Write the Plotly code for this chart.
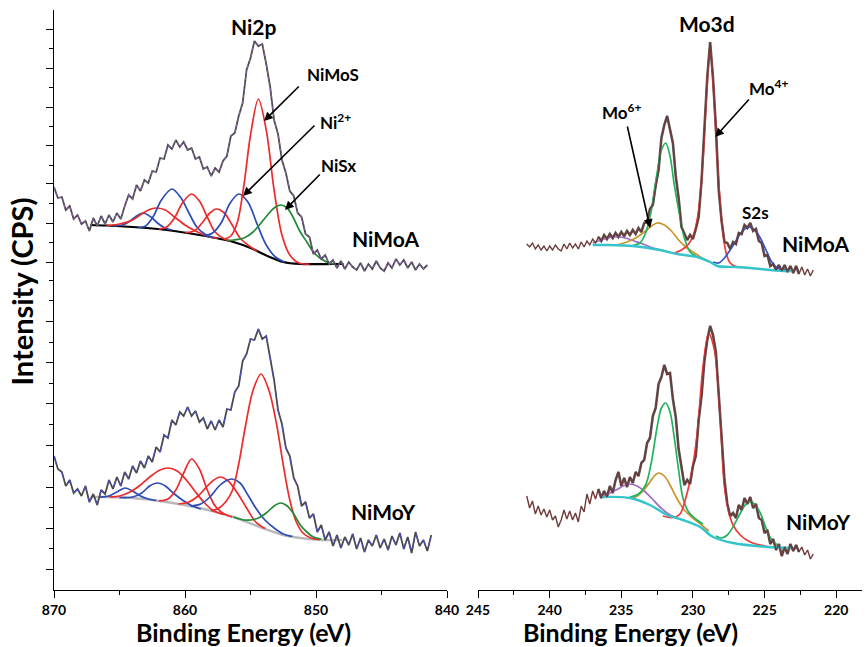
import numpy as np
import plotly.graph_objects as go

# ---------------- raw spectra (regular energy step) ----------------
NI_E_START, NI_E_STEP = 870.0, 0.3
MO_E_START, MO_E_STEP = 241.6, 0.2

NIMOA_NI2P_RAW = [
    403, 392, 393, 380, 384, 371, 375, 366, 369, 359,
    372, 364, 374, 366, 375, 368, 377, 371, 384, 395,
    391, 405, 399, 410, 407, 419, 418, 432, 431, 445,
    441, 450, 443, 448, 440, 442, 431, 433, 421, 423,
    414, 422, 418, 429, 434, 454, 457, 474, 487, 520,
    532, 549, 544, 546, 526, 503, 470, 456, 430, 417,
    399, 394, 377, 373, 356, 353, 336, 340, 331, 335,
    326, 330, 322, 329, 321, 328, 323, 320, 327, 319,
    326, 321, 329, 322, 319, 327, 322, 331, 325, 330,
    322, 328, 320, 326, 321, 325]

NIMOY_NI2P_RAW = [
    134, 121, 118, 104, 110, 97, 101, 94, 104, 88,
    96, 85, 100, 96, 110, 101, 113, 104, 118, 111,
    124, 117, 129, 122, 134, 128, 143, 138, 155, 152,
    170, 165, 178, 174, 183, 174, 179, 168, 172, 161,
    169, 160, 170, 163, 181, 180, 198, 204, 229, 236,
    251, 250, 261, 251, 254, 233, 210, 180, 166, 142,
    134, 112, 104, 84, 88, 72, 76, 58, 65, 50,
    58, 44, 55, 42, 53, 45, 56, 41, 52, 38,
    50, 44, 55, 42, 51, 40, 54, 45, 57, 41,
    53, 37, 58, 44, 50, 39, 55]

NIMOA_MO3D_RAW = [
    346, 343, 347, 341, 345, 340, 344, 339, 344, 340,
    345, 341, 339, 346, 341, 347, 342, 346, 341, 348,
    343, 349, 345, 351, 347, 353, 349, 355, 351, 356,
    352, 357, 353, 358, 354, 359, 355, 360, 356, 362,
    358, 367, 368, 381, 385, 405, 420, 452, 465, 474,
    462, 447, 414, 392, 363, 357, 350, 355, 351, 361,
    373, 409, 460, 513, 548, 512, 463, 400, 369, 348,
    347, 341, 348, 346, 357, 356, 365, 362, 367, 359,
    361, 349, 347, 334, 335, 324, 326, 320, 325, 319,
    325, 318, 324, 317, 324, 316, 323, 315, 321, 314,
    320]

NIMOY_MO3D_RAW = [
    94, 82, 89, 76, 84, 75, 81, 73, 80, 70,
    74, 63, 70, 80, 71, 79, 70, 77, 68, 84,
    78, 96, 86, 99, 91, 101, 92, 99, 93, 104,
    97, 110, 118, 104, 112, 103, 113, 107, 118, 114,
    127, 130, 147, 152, 174, 182, 206, 213, 225, 216,
    217, 191, 173, 141, 124, 105, 110, 106, 124, 134,
    170, 194, 229, 250, 264, 255, 238, 197, 150, 110,
    86, 74, 77, 72, 85, 80, 92, 86, 93, 82,
    86, 72, 70, 57, 60, 46, 51, 40, 46, 34,
    43, 36, 46, 39, 45, 38, 43, 35, 40, 31,
    36]

# ---------------- fitted components: (binding energy, intensity) ----------------
A_NI_BG = [(867.25, 365), (866.0, 364.5), (864.0, 363), (861.4, 360), (858.9, 355), (856.3, 348),
           (855.0, 342), (853.7, 334), (852.5, 328), (851.2, 326), (848.7, 326), (847.9, 326)]
A_NI_B1 = [(865.5, 364), (864.8, 365), (864.3, 368), (863.8, 373), (863.2, 377), (862.6, 373),
           (862.1, 367), (861.6, 362.5), (861.0, 360)]
A_NI_R1 = [(866.0, 364.5), (865.0, 366), (864.0, 370), (863.2, 377), (862.6, 381), (862.1, 382),
           (861.5, 380), (860.8, 373), (860.0, 365), (859.2, 359), (858.3, 354), (857.5, 351.5)]
A_NI_B2 = [(863.6, 362.5), (863.0, 364), (862.4, 374), (861.8, 390), (861.0, 401), (860.3, 392),
           (859.7, 377), (859.1, 363), (858.5, 356), (857.8, 352)]
A_NI_R2 = [(862.0, 361), (861.4, 363), (860.8, 372), (860.2, 387), (859.5, 396), (858.9, 389),
           (858.3, 373), (857.7, 358), (857.0, 351), (856.5, 349)]
A_NI_R3 = [(860.0, 357.5), (859.3, 359), (858.7, 367), (858.1, 377), (857.6, 381), (857.0, 377),
           (856.4, 365), (855.8, 352), (855.1, 344), (854.5, 339)]
A_NI_B3 = [(858.6, 354), (857.9, 357), (857.2, 368), (856.6, 386), (855.9, 396), (855.2, 388),
           (854.5, 366), (853.8, 345), (853.1, 333), (852.4, 328)]
A_NI_R4 = [(857.0, 351), (856.5, 354), (856.0, 368), (855.5, 405), (855.0, 455), (854.4, 491),
           (853.8, 460), (853.2, 400), (852.6, 355), (852.0, 335), (851.3, 327), (850.5, 326)]
A_NI_G = [(856.8, 349.5), (856.3, 350), (855.5, 352), (854.8, 358), (854.2, 367), (853.7, 375),
          (853.2, 382), (852.7, 385), (852.2, 382), (851.8, 374), (851.2, 358), (850.7, 348),
          (850.2, 338), (849.7, 332), (849.0, 327), (848.5, 326)]

Y_NI_BG = [(867.2, 93), (866.0, 93), (864.0, 92), (861.4, 88), (858.9, 82), (856.3, 73),
           (854.3, 63), (852.5, 55), (851.2, 52), (849.5, 50), (848.0, 50)]
Y_NI_B1 = [(866.5, 93), (865.8, 94), (865.2, 98), (864.6, 102), (864.0, 99), (863.4, 94),
           (862.8, 91), (862.2, 89.5)]
Y_NI_B2 = [(865.0, 92.5), (864.0, 93), (863.3, 97), (862.7, 104), (862.1, 107), (861.5, 104),
           (860.9, 97), (860.2, 90), (859.5, 84.5), (858.8, 81)]
Y_NI_R1 = [(865.8, 93), (865.0, 94), (864.2, 98), (863.4, 105), (862.6, 114), (861.9, 120),
           (861.3, 122), (860.6, 119), (859.9, 110), (859.2, 98), (858.5, 87), (857.8, 79), (857.0, 75.5)]
Y_NI_R2 = [(862.0, 89), (861.3, 91), (860.7, 100), (860.1, 117), (859.5, 131), (858.9, 121),
           (858.3, 100), (857.7, 84), (857.0, 76), (856.4, 73)]
Y_NI_R3 = [(860.5, 86), (859.7, 88), (859.0, 94), (858.3, 104), (857.8, 110), (857.3, 113),
           (856.7, 109), (856.0, 97), (855.3, 82), (854.6, 68), (853.9, 61.5)]
Y_NI_B3 = [(859.6, 84), (858.8, 86), (858.1, 93), (857.4, 104), (856.9, 109), (856.4, 111),
           (855.8, 107), (855.2, 95), (854.6, 82), (853.9, 70), (853.2, 62), (852.5, 56), (851.8, 53.5)]
Y_NI_R4 = [(858.0, 79), (857.4, 82), (856.9, 88), (856.4, 99), (855.9, 126), (855.4, 163),
           (854.8, 200), (854.2, 216), (853.6, 200), (853.0, 165), (852.5, 125), (852.0, 90),
           (851.5, 68), (851.0, 57), (850.4, 52), (849.7, 50.5)]
Y_NI_G = [(856.3, 73), (855.5, 70), (855.0, 70), (854.4, 72), (853.8, 77), (853.2, 84), (852.7, 87),
          (852.2, 84), (851.7, 76), (851.2, 65), (850.7, 58), (850.2, 53), (849.6, 51)]

A_MO_BG = [(237.0, 345), (236.0, 345), (234.2, 344), (232.3, 340), (231.1, 336), (229.7, 333),
           (228.8, 328), (228.3, 324), (227.0, 323), (226.0, 322), (223.7, 319), (223.0, 319)]
A_MO_PU = [(237.0, 347), (236.4, 350), (235.8, 352.5), (235.3, 353), (234.7, 352), (234.1, 349),
           (233.5, 346), (232.9, 342.5), (232.3, 340), (231.6, 337.5)]
A_MO_OR = [(235.3, 345), (234.7, 347.5), (234.0, 352), (233.4, 358), (232.9, 364), (232.5, 367),
           (232.0, 365), (231.5, 359), (231.0, 350), (230.5, 343), (229.9, 337), (229.3, 331.5), (228.8, 328)]
A_MO_GR = [(234.2, 344.5), (233.7, 347), (233.3, 357), (232.9, 380), (232.5, 417), (232.2, 440),
           (231.9, 447), (231.6, 434), (231.3, 405), (230.9, 373), (230.6, 352), (230.2, 338), (229.8, 334)]
A_MO_RD = [(231.3, 337), (230.8, 340), (230.3, 346), (229.9, 358), (229.6, 380), (229.3, 430),
           (229.05, 495), (228.8, 542), (228.55, 497), (228.3, 430), (228.0, 370), (227.7, 338),
           (227.4, 327), (227.0, 323.5), (226.5, 322.5)]
A_MO_S2S = [(228.6, 328), (228.2, 327), (227.8, 332), (227.4, 340), (227.0, 349), (226.6, 358),
            (226.1, 363), (225.7, 360), (225.3, 352), (224.9, 340), (224.5, 328), (224.1, 322), (223.5, 320)]

Y_MO_BG = [(236.4, 93), (234.4, 92), (233.0, 85), (231.8, 75), (230.7, 70), (229.5, 63),
           (228.6, 53), (227.2, 47), (224.8, 43), (223.2, 42)]
Y_MO_PU = [(236.4, 93), (235.9, 96), (235.3, 100.5), (234.8, 104.5), (234.4, 106), (233.9, 104),
           (233.4, 99), (232.9, 92), (232.3, 83), (231.6, 75), (231.1, 72)]
Y_MO_OR = [(234.7, 92), (234.0, 93), (233.5, 99), (233.0, 108), (232.7, 114), (232.4, 117),
           (232.0, 114), (231.6, 105), (231.1, 91), (230.6, 80), (230.0, 72), (229.4, 65), (228.9, 59)]
Y_MO_GR = [(234.4, 93), (233.8, 96), (233.3, 105), (232.9, 128), (232.5, 163), (232.2, 182),
           (231.9, 187), (231.6, 178), (231.3, 152), (231.0, 120), (230.7, 92), (230.3, 78),
           (229.8, 71), (229.3, 66)]
Y_MO_RD = [(232.1, 74), (231.4, 72.5), (230.9, 76), (230.5, 92), (230.1, 117), (229.7, 157),
           (229.3, 223), (228.9, 257), (228.5, 240), (228.1, 173), (227.8, 103), (227.5, 78),
           (227.2, 65), (226.7, 55), (226.0, 48), (225.0, 44), (224.0, 42.5)]
Y_MO_S2S = [(228.4, 54), (228.0, 52), (227.6, 55), (227.2, 63), (226.8, 74), (226.4, 84), (226.1, 88),
            (225.7, 86), (225.3, 77), (224.9, 62), (224.5, 50), (224.1, 45)]

# ---------------- axis ticks ----------------
X_TICKS_NI = [870, 860, 850, 840]
X_MINOR_NI = [865, 855, 845]
X_TICKS_MO = [245, 240, 235, 230, 225, 220]
X_MINOR_MO = [242.5, 237.5, 232.5, 227.5, 222.5]
Y_MAJOR = [21, 62, 103, 145, 187, 228, 269, 328, 367, 407, 445, 483, 522, 561]
Y_MINOR = [42, 83, 124, 166, 207, 248, 290, 310, 348, 387, 425, 464, 503, 542]

# ---------------- colours ----------------
RAW_GRAY = "#4a4a4a"
RED, BLUE, DGREEN = "#ee2a2a", "#2f4cb5", "#1f8b34"
BROWN, MGREEN, ORANGE, PURPLE, CYAN, MRED, MBLUE = (
    "#6e3b3b", "#22b35e", "#c9952b", "#9d6cc2", "#35c3cc", "#f03a3a", "#3455c2")

fig = go.Figure()


def energies(start, step, n):
    return start - step * np.arange(n)


def add_line(x, y, xa, color, width=1.7, shape="linear", dash="solid"):
    fig.add_trace(go.Scatter(
        x=list(x), y=list(y), xaxis=xa, yaxis="y", mode="lines",
        line=dict(color=color, width=width, shape=shape, dash=dash,
                  smoothing=0.9 if shape == "spline" else None),
        hoverinfo="skip", showlegend=False))


def add_comp(points, xa, color, width=1.7):
    e, i = zip(*points)
    add_line(e, i, xa, color, width=width, shape="spline")


# ---- Ni2p NiMoA ----
eA = energies(NI_E_START, NI_E_STEP, len(NIMOA_NI2P_RAW))
add_comp(A_NI_BG, "x", "#000000", 2.2)
for pts, col in [(A_NI_B1, BLUE), (A_NI_R1, RED), (A_NI_B2, BLUE), (A_NI_R2, RED),
                 (A_NI_R3, RED), (A_NI_B3, BLUE), (A_NI_R4, RED), (A_NI_G, DGREEN)]:
    add_comp(pts, "x", col)
add_line(eA, NIMOA_NI2P_RAW, "x", RAW_GRAY, 1.8)
add_line(eA, NIMOA_NI2P_RAW, "x", "#8a5fb0", 1.1, dash="dot")

# ---- Ni2p NiMoY ----
eY = energies(NI_E_START, NI_E_STEP, len(NIMOY_NI2P_RAW))
add_comp(Y_NI_BG, "x", "#b8b8b8", 2.4)
for pts, col in [(Y_NI_B1, BLUE), (Y_NI_B2, BLUE), (Y_NI_R1, RED), (Y_NI_R2, RED),
                 (Y_NI_R3, RED), (Y_NI_B3, BLUE), (Y_NI_R4, RED), (Y_NI_G, DGREEN)]:
    add_comp(pts, "x", col)
add_line(eY, NIMOY_NI2P_RAW, "x", RAW_GRAY, 1.8)
add_line(eY, NIMOY_NI2P_RAW, "x", "#4b4fb8", 1.1, dash="dash")

# ---- Mo3d NiMoA ----
mA = energies(MO_E_START, MO_E_STEP, len(NIMOA_MO3D_RAW))
fitA = [(e, v) for e, v in zip(mA, NIMOA_MO3D_RAW) if 222.6 <= e <= 236.6]
add_line([p[0] for p in fitA], [p[1] for p in fitA], "x2", "#5a5a5a", 2.6)
for pts, col in [(A_MO_PU, PURPLE), (A_MO_OR, ORANGE), (A_MO_GR, MGREEN),
                 (A_MO_RD, MRED), (A_MO_S2S, MBLUE)]:
    add_comp(pts, "x2", col)
add_comp(A_MO_BG, "x2", CYAN, 2.4)
add_line(mA, NIMOA_MO3D_RAW, "x2", BROWN, 1.4)

# ---- Mo3d NiMoY ----
mY = energies(MO_E_START, MO_E_STEP, len(NIMOY_MO3D_RAW))
fitY = [(e, v) for e, v in zip(mY, NIMOY_MO3D_RAW) if 222.6 <= e <= 236.6]
add_line([p[0] for p in fitY], [p[1] for p in fitY], "x2", "#5a5a5a", 2.6)
for pts, col in [(Y_MO_PU, PURPLE), (Y_MO_OR, ORANGE), (Y_MO_GR, MGREEN),
                 (Y_MO_RD, MRED), (Y_MO_S2S, MGREEN)]:
    add_comp(pts, "x2", col)
add_comp(Y_MO_BG, "x2", CYAN, 2.4)
add_line(mY, NIMOY_MO3D_RAW, "x2", BROWN, 1.4)

# ---------------- layout ----------------
FONT = "Lato, 'Open Sans', Arial, sans-serif"
axis_common = dict(showline=True, linecolor="black", linewidth=1.4, ticks="outside",
                   ticklen=7, tickwidth=1.4, tickcolor="black", showgrid=False,
                   zeroline=False, automargin=False,
                   tickfont=dict(size=14, weight="bold", color="black", family=FONT))
fig.update_layout(
    width=866, height=647, autosize=False,
    margin=dict(l=54, r=4, t=10, b=57, autoexpand=False),
    plot_bgcolor="white", paper_bgcolor="white", showlegend=False,
    font=dict(family=FONT, color="black"),
    xaxis=dict(domain=[0, 0.4864], range=[870, 840], tickvals=X_TICKS_NI, anchor="y",
               minor=dict(tickvals=X_MINOR_NI, ticks="outside", ticklen=4, tickwidth=1.4,
                          tickcolor="black"), **axis_common),
    xaxis2=dict(domain=[0.5248, 1], range=[245, 218.2], tickvals=X_TICKS_MO, anchor="y",
                minor=dict(tickvals=X_MINOR_MO, ticks="outside", ticklen=4, tickwidth=1.4,
                           tickcolor="black"), **axis_common),
    yaxis=dict(domain=[0, 1], range=[0, 580], anchor="x", showline=True, linecolor="black",
               linewidth=1.4, ticks="outside", ticklen=7, tickwidth=1.4, tickcolor="black",
               tickvals=Y_MAJOR, showticklabels=False, showgrid=False, zeroline=False,
               automargin=False,
               minor=dict(tickvals=Y_MINOR, ticks="outside", ticklen=4, tickwidth=1.4,
                          tickcolor="black")),
)

ann = []


def label(text, x, y, xref, size=14):
    ann.append(dict(text=text, x=x, y=y, xref=xref, yref="y", showarrow=False,
                    font=dict(size=size, weight="bold", family=FONT, color="black"),
                    xanchor="center", yanchor="middle"))


def arrow(x0, y0, x1, y1, xref):
    ann.append(dict(text="", x=x1, y=y1, ax=x0, ay=y0, xref=xref, yref="y",
                    axref=xref, ayref="y", showarrow=True, arrowhead=2, arrowsize=1.1,
                    arrowwidth=1.6, arrowcolor="black"))


label("Ni2p", 854.7, 564, "x", 21)
label("NiMoS", 848.7, 516, "x", 17)
label("Ni<sup>2+</sup>", 848.5, 469, "x", 17)
label("NiSx", 848.3, 425, "x", 17)
label("NiMoA", 844.65, 352, "x", 21)
label("NiMoY", 844.9, 79, "x", 21)
arrow(851.2, 505, 853.97, 469, "x")
arrow(850.0, 466, 855.57, 394, "x")
arrow(849.6, 417, 852.37, 380, "x")

label("Mo3d", 229.04, 567, "x2", 21)
label("Mo<sup>6+</sup>", 235.0, 479, "x2", 17)
label("Mo<sup>4+</sup>", 224.75, 503, "x2", 17)
label("S2s", 225.6, 378, "x2", 17)
label("NiMoA", 221.4, 347, "x2", 21)
label("NiMoY", 221.3, 69, "x2", 21)
arrow(234.6, 465, 232.99, 362, "x2")
arrow(226.0, 492, 228.45, 453, "x2")

ann.append(dict(text="Intensity (CPS)", x=-0.040, y=0.514, xref="paper", yref="paper",
                textangle=-90, showarrow=False, xanchor="center", yanchor="middle",
                font=dict(size=29, weight="bold", family=FONT, color="black")))
for xc in (0.235, 0.713):
    ann.append(dict(text="Binding Energy (eV)", x=xc, y=-0.0724, xref="paper", yref="paper",
                    showarrow=False, xanchor="center", yanchor="middle",
                    font=dict(size=25, weight="bold", family=FONT, color="black")))
fig.update_layout(annotations=ann)

fig.write_html("out.html",
               config={"displayModeBar": False, "responsive": False},
               post_script="document.documentElement.style.overflow='hidden';"
                           "document.body.style.margin='0px';document.body.style.overflow='hidden';")
